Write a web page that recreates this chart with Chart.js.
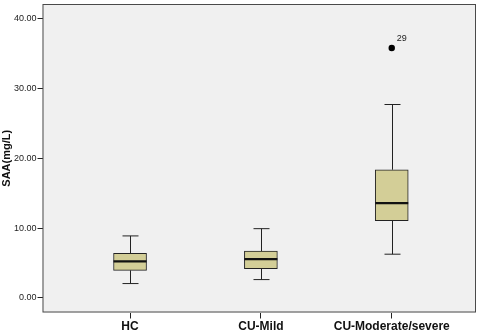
<!DOCTYPE html>
<html>
<head>
<meta charset="utf-8">
<script src="https://cdn.jsdelivr.net/npm/chart.js@4"></script>
<style>
  body { margin: 0; background: #fff; }
  #wrap { width: 480px; height: 333px; }
</style>
</head>
<body>
<div id="wrap"><canvas id="boxChart"></canvas></div>
<script>
const groups = ["HC", "CU-Mild", "CU-Moderate/severe"];
const whiskerLow = [2.05, 2.62, 6.26];
const q1 = [3.94, 4.18, 11.06];
const median = [5.22, 5.55, 13.58];
const q3 = [6.40, 6.69, 18.37];
const whiskerHigh = [8.88, 9.92, 27.72];
const outlierGroup = [3];
const outlierValue = [35.83];
const outlierLabel = ["29"];
const yTicks = [0, 10, 20, 30, 40];

const FONT = "'Liberation Sans', Arial, sans-serif";
const INK = "#222";

const boxParts = {
  id: "boxParts",
  beforeDraw(chart) {
    const { ctx, chartArea: a } = chart;
    ctx.save();
    ctx.fillStyle = "#f0f0f0";
    ctx.fillRect(a.left, a.top, a.right - a.left, a.bottom - a.top);
    ctx.restore();
  },
  afterDatasetsDraw(chart) {
    const { ctx, chartArea: a, scales: { x, y } } = chart;
    const bars = chart.getDatasetMeta(0).data;
    ctx.save();
    ctx.strokeStyle = INK;
    ctx.lineWidth = 1;
    groups.forEach((g, i) => {
      const cx = Math.round(x.getPixelForValue(i + 1)) + 0.5;
      const cap = 8;
      const hi = y.getPixelForValue(whiskerHigh[i]);
      const lo = y.getPixelForValue(whiskerLow[i]);
      ctx.beginPath();
      ctx.moveTo(cx, y.getPixelForValue(q3[i]));
      ctx.lineTo(cx, hi);
      ctx.moveTo(cx - cap, hi);
      ctx.lineTo(cx + cap, hi);
      ctx.moveTo(cx, y.getPixelForValue(q1[i]));
      ctx.lineTo(cx, lo);
      ctx.moveTo(cx - cap, lo);
      ctx.lineTo(cx + cap, lo);
      ctx.stroke();

      const half = bars[i].width / 2;
      const my = y.getPixelForValue(median[i]);
      ctx.beginPath();
      ctx.lineWidth = 2.2;
      ctx.strokeStyle = "#111";
      ctx.moveTo(bars[i].x - half, my);
      ctx.lineTo(bars[i].x + half, my);
      ctx.stroke();
      ctx.lineWidth = 1;
      ctx.strokeStyle = INK;
    });

    // outlier case numbers
    const pts = chart.getDatasetMeta(1).data;
    ctx.fillStyle = INK;
    ctx.font = "9px " + FONT;
    ctx.textBaseline = "middle";
    pts.forEach((p, i) => ctx.fillText(outlierLabel[i], p.x + 5, p.y - 9));

    // plot frame
    ctx.strokeStyle = "#4a4a4a";
    ctx.strokeRect(a.left + 0.5, a.top + 0.5, a.right - a.left - 1, a.bottom - a.top - 1);
    ctx.restore();
  }
};

new Chart(document.getElementById("boxChart"), {
  type: "bar",
  data: {
    datasets: [{
      type: "bar",
      data: groups.map((g, i) => ({ x: i + 1, y: [q1[i], q3[i]] })),
      backgroundColor: "#d3ce97",
      borderColor: INK,
      borderWidth: 1,
      borderSkipped: false,
      barThickness: 33
    }, {
      type: "scatter",
      data: outlierGroup.map((g, i) => ({ x: g, y: outlierValue[i] })),
      pointRadius: 3.2,
      pointBackgroundColor: "#000",
      pointBorderColor: "#000",
      pointBorderWidth: 0
    }]
  },
  options: {
    responsive: true,
    maintainAspectRatio: false,
    animation: false,
    layout: { padding: { top: 1, right: 4, left: 0, bottom: 0 } },
    plugins: { legend: { display: false }, tooltip: { enabled: false } },
    scales: {
      x: {
        type: "linear",
        offset: false,
        min: 0.331,
        max: 3.644,
        afterBuildTicks: s => { s.ticks = groups.map((g, i) => ({ value: i + 1 })); },
        afterFit: s => { s.height = 20.5; s.paddingLeft = 0; s.paddingRight = 0; },
        border: { display: false },
        grid: { offset: false, drawOnChartArea: false, drawTicks: true, tickLength: 6, color: INK },
        ticks: {
          padding: 1,
          color: "#111",
          font: { family: FONT, size: 12, weight: "bold" },
          callback: v => groups[v - 1],
          maxRotation: 0,
          autoSkip: false
        }
      },
      y: {
        min: -2.1,
        max: 42.13,
        afterBuildTicks: s => { s.ticks = yTicks.map(v => ({ value: v })); },
        afterFit: s => { s.width = 42.5; s.paddingTop = 0; s.paddingBottom = 0; },
        border: { display: false },
        grid: { drawOnChartArea: false, drawTicks: true, tickLength: 5, color: INK },
        ticks: {
          padding: 1,
          color: INK,
          font: { family: FONT, size: 9 },
          callback: v => v.toFixed(2)
        },
        title: {
          display: true,
          text: "SAA(mg/L)",
          color: "#111",
          padding: 0,
          font: { family: FONT, size: 11, weight: "bold" }
        }
      }
    }
  },
  plugins: [boxParts]
});
</script>
</body>
</html>
